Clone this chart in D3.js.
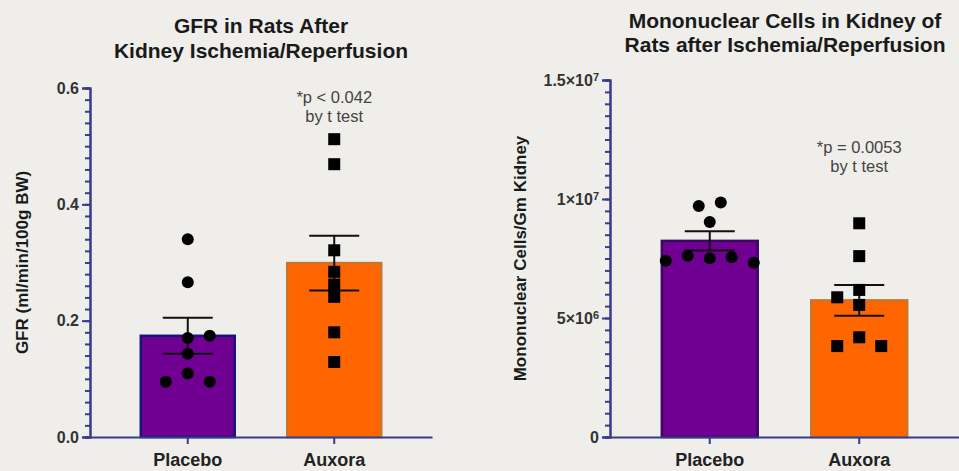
<!DOCTYPE html>
<html>
<head>
<meta charset="utf-8">
<script src="https://cdn.jsdelivr.net/npm/d3@7"></script>
<style>
  body { margin: 0; background: #efeeea; }
  svg { display: block; font-family: "Liberation Sans", Arial, sans-serif; }
</style>
</head>
<body>
<svg id="chart" width="959" height="471"></svg>
<script>
// Groups
const categories = ["Placebo", "Auxora"];

// GFR (ml/min/100g BW) - individual rats, means and SEM
const gfrPlacebo = [0.340, 0.266, 0.174, 0.170, 0.143, 0.109, 0.095, 0.095];
const gfrAuxora = [0.512, 0.469, 0.321, 0.284, 0.262, 0.241, 0.180, 0.129];
const gfrMean = [0.174, 0.299];
const gfrSem = [0.031, 0.047];
const gfrTicks = [0, 0.2, 0.4, 0.6];

// Mononuclear cells per gram kidney
const cellsPlacebo = [9.71e6, 9.85e6, 9.03e6, 7.41e6, 7.62e6, 7.51e6, 7.55e6, 7.32e6];
const cellsAuxora = [8.98e6, 7.60e6, 6.18e6, 5.87e6, 5.55e6, 4.19e6, 3.82e6, 3.82e6];
const cellsMean = [8.24e6, 5.74e6];
const cellsSem = [0.40e6, 0.65e6];
const cellsTicks = [0, 5e6, 1e7, 1.5e7];

// column slots for scattered points (GraphPad style spread)
const gfrPlaceboSlot = [0, 0, 2, 0, 0, 0, -2, 2];
const gfrAuxoraSlot = [0, 0, 0, 0, 0, 0, 0, 0];
const cellsPlaceboSlot = [-1, 1, 0, -4, -2, 0, 2, 4];
const cellsAuxoraSlot = [0, 0, 0, -2, 0, 0, -2, 2];

const axisColor = "#363b8c";
const purple = "#700092";
const orange = "#ff6600";

const svg = d3.select("#chart");

function drawPanel(opt) {
  const g = svg.append("g");

  const y = d3.scaleLinear().domain(opt.domain).range([437, opt.yTop]);
  const x = d3
    .scaleBand()
    .domain(categories)
    .range(opt.xRange)
    .paddingInner(0.345)
    .paddingOuter(0.34);

  // bars
  g.selectAll(".bar")
    .data(opt.mean)
    .enter()
    .append("rect")
    .attr("x", (d, i) => x(categories[i]) + 1)
    .attr("width", x.bandwidth() - 2)
    .attr("y", (d) => y(d))
    .attr("height", (d) => y(0) - y(d))
    .style("fill", (d, i) => (i === 0 ? purple : orange))
    .style("stroke", (d, i) => opt.borders[i])
    .style("stroke-width", 2.5);

  // error bars (mean +/- SEM)
  const capW = 50;
  opt.mean.forEach((m, i) => {
    const cx = x(categories[i]) + x.bandwidth() / 2;
    const lo = m - opt.sem[i];
    const hi = m + opt.sem[i];
    g.append("line")
      .attr("x1", cx).attr("x2", cx)
      .attr("y1", y(lo)).attr("y2", y(hi))
      .style("stroke", "#111").style("stroke-width", 2);
    [lo, hi].forEach((v) => {
      g.append("line")
        .attr("x1", cx - capW / 2).attr("x2", cx + capW / 2)
        .attr("y1", y(v)).attr("y2", y(v))
        .style("stroke", "#111").style("stroke-width", 2);
    });
  });

  // individual points
  const slotW = 11;
  opt.points.forEach((vals, i) => {
    const cx = x(categories[i]) + x.bandwidth() / 2;
    const slots = opt.slots[i];
    if (i === 0) {
      g.selectAll(".dot" + i)
        .data(vals)
        .enter()
        .append("circle")
        .attr("cx", (d, k) => cx + slots[k] * slotW)
        .attr("cy", (d) => y(d))
        .attr("r", 6)
        .style("fill", "#000");
    } else {
      g.selectAll(".sq" + i)
        .data(vals)
        .enter()
        .append("rect")
        .attr("x", (d, k) => cx + slots[k] * slotW - 6)
        .attr("y", (d) => y(d) - 6)
        .attr("width", 12)
        .attr("height", 12)
        .style("fill", "#000");
    }
  });

  // y axis: minor then major ticks
  const yMinor = d3.axisLeft(y).tickValues(opt.minor).tickSize(5).tickFormat("");
  const yMajor = d3.axisLeft(y).tickValues(opt.ticks).tickSize(8).tickPadding(3).tickFormat(opt.format);
  g.append("g").attr("transform", `translate(${opt.xRange[0]},0)`).call(yMinor);
  const ya = g.append("g").attr("transform", `translate(${opt.xRange[0]},0)`).call(yMajor);

  // x axis
  const xa = g.append("g")
    .attr("transform", "translate(0,437)")
    .call(d3.axisBottom(x).tickSize(7).tickSizeOuter(0).tickPadding(9));

  g.selectAll(".domain, .tick line")
    .style("stroke", axisColor)
    .style("stroke-width", 2);
  ya.selectAll("text")
    .style("font-size", "16px").style("font-weight", "bold").style("fill", "#333");
  xa.selectAll("text")
    .style("font-size", "18px").style("font-weight", "bold").style("fill", "#222");

  if (opt.superscript) {
    ya.selectAll(".tick text").each(function (d) {
      const t = d3.select(this).text("");
      if (d === 0) { t.text("0"); return; }
      const e = Math.floor(Math.log10(d));
      const m = +(d / Math.pow(10, e)).toFixed(2);
      t.append("tspan").text(m + "\u00d710");
      t.append("tspan").attr("dy", "-0.45em").style("font-size", "11px").text(e);
    });
  }

  // titles
  opt.title.forEach((line, k) => {
    svg.append("text")
      .attr("x", opt.titleX)
      .attr("y", opt.titleY + k * opt.titleGap)
      .attr("text-anchor", "middle")
      .style("font-size", opt.titleSize + "px")
      .style("font-weight", "bold")
      .style("fill", "#1a1a1a")
      .text(line);
  });

  // y axis label
  svg.append("text")
    .attr("transform", `translate(${opt.labelX},${(437 + opt.yTop) / 2}) rotate(-90)`)
    .attr("text-anchor", "middle")
    .style("font-size", "17px")
    .style("font-weight", "bold")
    .style("fill", "#1a1a1a")
    .text(opt.yLabel);

  // significance note over Auxora
  const ax = x(categories[1]) + x.bandwidth() / 2;
  opt.note.forEach((line, k) => {
    svg.append("text")
      .attr("x", ax)
      .attr("y", opt.noteY + k * 19)
      .attr("text-anchor", "middle")
      .style("font-size", "16.5px")
      .style("fill", "#444")
      .text(line);
  });
}

drawPanel({
  domain: [0, 0.6],
  yTop: 88,
  xRange: [90, 432],
  mean: gfrMean,
  sem: gfrSem,
  points: [gfrPlacebo, gfrAuxora],
  slots: [gfrPlaceboSlot, gfrAuxoraSlot],
  ticks: gfrTicks,
  minor: d3.range(0, 0.6001, 0.02),
  format: d3.format(".1f"),
  borders: ["#14147a", "#c8742a"],
  title: ["GFR in Rats After", "Kidney Ischemia/Reperfusion"],
  titleX: 261,
  titleY: 33,
  titleGap: 25,
  titleSize: 21,
  labelX: 28,
  yLabel: "GFR (ml/min/100g BW)",
  note: ["*p < 0.042", "by t test"],
  noteY: 103,
  superscript: false
});

drawPanel({
  domain: [0, 1.5e7],
  yTop: 80,
  xRange: [610, 959],
  mean: cellsMean,
  sem: cellsSem,
  points: [cellsPlacebo, cellsAuxora],
  slots: [cellsPlaceboSlot, cellsAuxoraSlot],
  ticks: cellsTicks,
  minor: d3.range(0, 1.5e7 + 1, 5e5),
  format: (d) => d,
  borders: ["#3e0862", "#c8742a"],
  title: ["Mononuclear Cells in Kidney of", "Rats after Ischemia/Reperfusion"],
  titleX: 785,
  titleY: 28,
  titleGap: 24,
  titleSize: 21,
  labelX: 526,
  yLabel: "Mononuclear Cells/Gm Kidney",
  note: ["*p = 0.0053", "by t test"],
  noteY: 153,
  superscript: true
});
</script>
</body>
</html>
